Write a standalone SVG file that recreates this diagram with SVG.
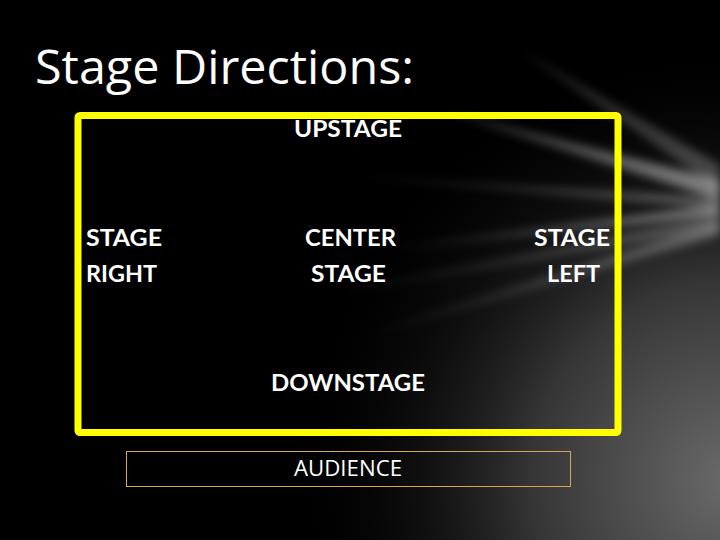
<svg xmlns="http://www.w3.org/2000/svg" width="720" height="540" viewBox="0 0 720 540">
<defs>
<radialGradient id="glow" cx="730" cy="480" r="440" gradientUnits="userSpaceOnUse">
<stop offset="0" stop-color="#6a6a6a"/>
<stop offset="0.45" stop-color="#363636"/>
<stop offset="1" stop-color="#000" stop-opacity="0"/>
</radialGradient>
<linearGradient id="streak" x1="720" y1="0" x2="280" y2="0" gradientUnits="userSpaceOnUse">
<stop offset="0" stop-color="#a8a8a8" stop-opacity="0.75"/>
<stop offset="1" stop-color="#888" stop-opacity="0"/>
</linearGradient>
<filter id="blur" x="-20%" y="-50%" width="140%" height="200%"><feGaussianBlur stdDeviation="5"/></filter>
<style>
.lbl{font-family:Lato,"Open Sans",sans-serif;font-size:22px;font-weight:bold;fill:#fff}
.title{font-family:"Open Sans",Lato,sans-serif;font-size:47px;fill:#fff}
.aud{font-family:"Open Sans",Lato,sans-serif;font-size:21px;fill:#fff}
</style>
</defs>
<rect width="720" height="540" fill="#000"/>
<rect width="720" height="540" fill="url(#glow)"/>
<g fill="url(#streak)" filter="url(#blur)">
<polygon points="720,200 440,110 720,180"/>
<polygon points="720,215 380,250 720,205"/>
<polygon points="720,208 330,175 720,198" opacity="0.7"/>
<polygon points="720,235 350,340 720,222" opacity="0.7"/>
<polygon points="720,190 520,50 720,165" opacity="0.5"/>
<polygon points="720,228 300,300 720,215" opacity="0.6"/>
</g>
<text class="title" x="35" y="84" textLength="379" lengthAdjust="spacingAndGlyphs">Stage Directions:</text>
<g id="stage">
<rect x="78" y="115.5" width="540" height="317" fill="none" stroke="#ffff00" stroke-width="7" rx="2"/>
</g>
<g id="upstage"><text class="lbl" x="294" y="137" textLength="108" lengthAdjust="spacingAndGlyphs">UPSTAGE</text></g>
<g id="stage-right"><text class="lbl" x="86" y="246" textLength="76" lengthAdjust="spacingAndGlyphs">STAGE</text><text class="lbl" x="86" y="282" textLength="71" lengthAdjust="spacingAndGlyphs">RIGHT</text></g>
<g id="center-stage"><text class="lbl" x="305" y="246" textLength="91" lengthAdjust="spacingAndGlyphs">CENTER</text><text class="lbl" x="311" y="282" textLength="75" lengthAdjust="spacingAndGlyphs">STAGE</text></g>
<g id="stage-left"><text class="lbl" x="534" y="246" textLength="76" lengthAdjust="spacingAndGlyphs">STAGE</text><text class="lbl" x="547" y="282" textLength="53" lengthAdjust="spacingAndGlyphs">LEFT</text></g>
<g id="downstage"><text class="lbl" x="271" y="391" textLength="154" lengthAdjust="spacingAndGlyphs">DOWNSTAGE</text></g>
<g id="audience">
<rect x="126.5" y="451.5" width="444" height="35" fill="none" stroke="#d9a555" stroke-width="1"/>
<text class="aud" x="294" y="476" textLength="108" lengthAdjust="spacingAndGlyphs">AUDIENCE</text>
</g>
<g id="connectors"/>
</svg>
